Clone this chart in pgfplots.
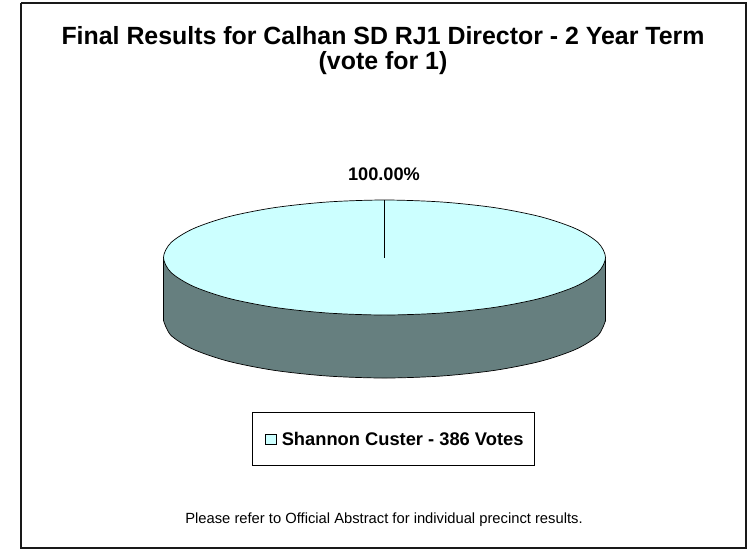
\documentclass[border=0pt]{standalone}
\usepackage{fontspec}
\setmainfont{Liberation Sans}
\usepackage{pgfplots}
\pgfplotsset{compat=1.18}
\definecolor{pietop}{HTML}{CCFFFF}
\definecolor{pieside}{HTML}{667F7F}
\begin{document}
\begin{tikzpicture}
	\begin{axis}[
			scale only axis,
			width=752pt,
			height=550pt,
			xmin=0, xmax=752,
			ymin=0, ymax=550,
			y dir=reverse,
			hide axis,
			clip=false,
			title={Final Results for Calhan SD RJ1 Director - 2 Year Term\\(vote for 1)},
			title style={
				at={(axis cs:383,56.5)}, anchor=center, align=center,
				font=\fontsize{24.9}{25}\selectfont\bfseries, inner sep=0pt,
			},
			legend style={
				at={(axis cs:393.6,439.2)}, anchor=center,
				draw=black, line width=0.9pt,
				font=\fontsize{18.3}{22}\selectfont\bfseries,
				inner xsep=9pt, inner ysep=17pt,
				legend cell align=left,
			},
		]
		% page extent
		\path (axis cs:0,0) rectangle (axis cs:752,550);
		% outer frame
		\addplot[black!90, line width=2pt, forget plot] coordinates {
			(21,3) (746,3) (746,548) (21,548) (21,3)
		};
		% side of the pie
		\addplot[fill=pieside, draw=none, forget plot] coordinates {
			(163.5,257.5) (605.5,257.5) (605.5,322) (163.5,322)
		};
		\addplot[black, line width=0.7pt, fill=pieside, smooth, forget plot] coordinates {
			(163.5,320.5) (171,335.4) (193.1,349.25) (228.2,361.2) (274,370.3) (327.3,376)
			(384.5,378) (441.7,376) (495,370.3) (540.8,361.2) (575.9,349.25) (598,335.4) (605.5,320.5)
		};
		\addplot[black, line width=0.7pt, forget plot] coordinates {(163.5,257.5) (163.5,320.5)};
		\addplot[black, line width=0.7pt, forget plot] coordinates {(605.5,257.5) (605.5,320.5)};
		% top of the pie
		\addplot[black, line width=0.7pt, fill=pietop, smooth cycle, forget plot] coordinates {
			(605.5,257.5) (598,272.4) (575.9,286.25) (540.8,298.2) (495,307.3) (441.7,313)
			(384.5,315) (327.3,313) (274,307.3) (228.2,298.2) (193.1,286.25) (171,272.4)
			(163.5,257.5) (171,242.6) (193.1,228.75) (228.2,216.8) (274,207.7) (327.3,202)
			(384.5,200) (441.7,202) (495,207.7) (540.8,216.8) (575.9,228.75) (598,242.6)
		};
		% slice edge
		\addplot[black, line width=0.8pt, forget plot] coordinates {(384.5,200) (384.5,258)};
		\node[font=\fontsize{18.2}{22}\selectfont\bfseries] at (axis cs:384,174) {100.00\%};
		\node[font=\fontsize{14.75}{18}\selectfont] at (axis cs:384,520) {Please refer to Official Abstract for individual precinct results.};
		\addlegendimage{legend image code/.code={
			\path[draw=none, fill=none] (-4pt,-5pt) rectangle (14pt,5pt);
			\draw[black, line width=0.7pt, fill=pietop] (0pt,-5pt) rectangle (11pt,5pt);
		}}
		\addlegendentry{Shannon Custer - 386 Votes}
	\end{axis}
\end{tikzpicture}
\end{document}
